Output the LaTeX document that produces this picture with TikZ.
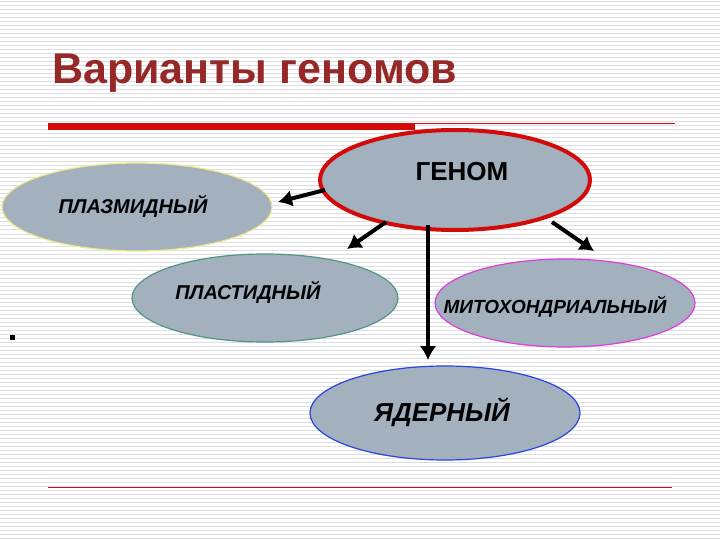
\documentclass[tikz,border=0pt]{standalone}
\usepackage{fontspec}
\setmainfont{Liberation Sans}
\usetikzlibrary{arrows.meta}
\definecolor{ellfill}{RGB}{163,176,190}
\definecolor{titlec}{RGB}{150,40,40}
\definecolor{redl}{RGB}{210,10,10}
\definecolor{stripe}{RGB}{222,222,226}
\definecolor{yel}{RGB}{235,235,140}
\definecolor{grn}{RGB}{80,150,130}
\definecolor{mag}{RGB}{220,60,220}
\definecolor{blu}{RGB}{40,70,220}
\begin{document}
\begin{tikzpicture}[x=1pt,y=-1pt,
  ell/.style={fill=ellfill,line width=1.2pt},
  lab/.style={font=\bfseries\itshape\fontsize{20}{22}\selectfont},
  arr/.style={line width=4pt,-{Latex[length=14pt,width=17pt]}}]
\useasboundingbox (0,0) rectangle (720,540);
\fill[white] (0,0) rectangle (720,540);
\foreach \y in {2,6,...,538} \draw[stripe,line width=1pt] (0,\y) -- (720,\y);
\node[anchor=base west,text=titlec,font=\bfseries\fontsize{43}{46}\selectfont,inner sep=0] (title) at (52,84) {Варианты геномов};
\draw[redl,line width=7pt] (48,127) -- (415,127);
\draw[redl,line width=1pt] (415,124) -- (675,124);
\draw[redl,line width=1pt] (48,487) -- (672,487);
\fill (10,335) rectangle (15,340);
\path[ell,draw=yel] (137,207) ellipse[x radius=135,y radius=44];
\path[ell,draw=grn] (265,298) ellipse[x radius=133,y radius=44];
\path[ell,draw=mag] (565,303) ellipse[x radius=130,y radius=44];
\path[ell,draw=blu] (445,413) ellipse[x radius=135,y radius=47];
\path[ell,draw=redl,line width=4pt] (455,180) ellipse[x radius=135,y radius=50];
\node[font=\bfseries\fontsize{26}{28}\selectfont] (genom) at (462,172) {ГЕНОМ};
\node[lab] (plasm) at (133,206) {ПЛАЗМИДНЫЙ};
\node[lab] (plast) at (248,292) {ПЛАСТИДНЫЙ};
\node[lab,font=\bfseries\itshape\fontsize{19}{21}\selectfont] (mito) at (555,307) {МИТОХОНДРИАЛЬНЫЙ};
\node[lab,font=\bfseries\itshape\fontsize{26}{28}\selectfont] (yad) at (442,412) {ЯДЕРНЫЙ};
\coordinate (a1) at (325,190); \coordinate (b1) at (278,202);
\coordinate (a2) at (386,222); \coordinate (b2) at (347,249);
\coordinate (a3) at (428,225); \coordinate (b3) at (428,360);
\coordinate (a4) at (552,222); \coordinate (b4) at (594,251);
\draw[arr] (a1) -- (b1);
\draw[arr] (a2) -- (b2);
\draw[arr] (a3) -- (b3);
\draw[arr] (a4) -- (b4);
\end{tikzpicture}
\end{document}
